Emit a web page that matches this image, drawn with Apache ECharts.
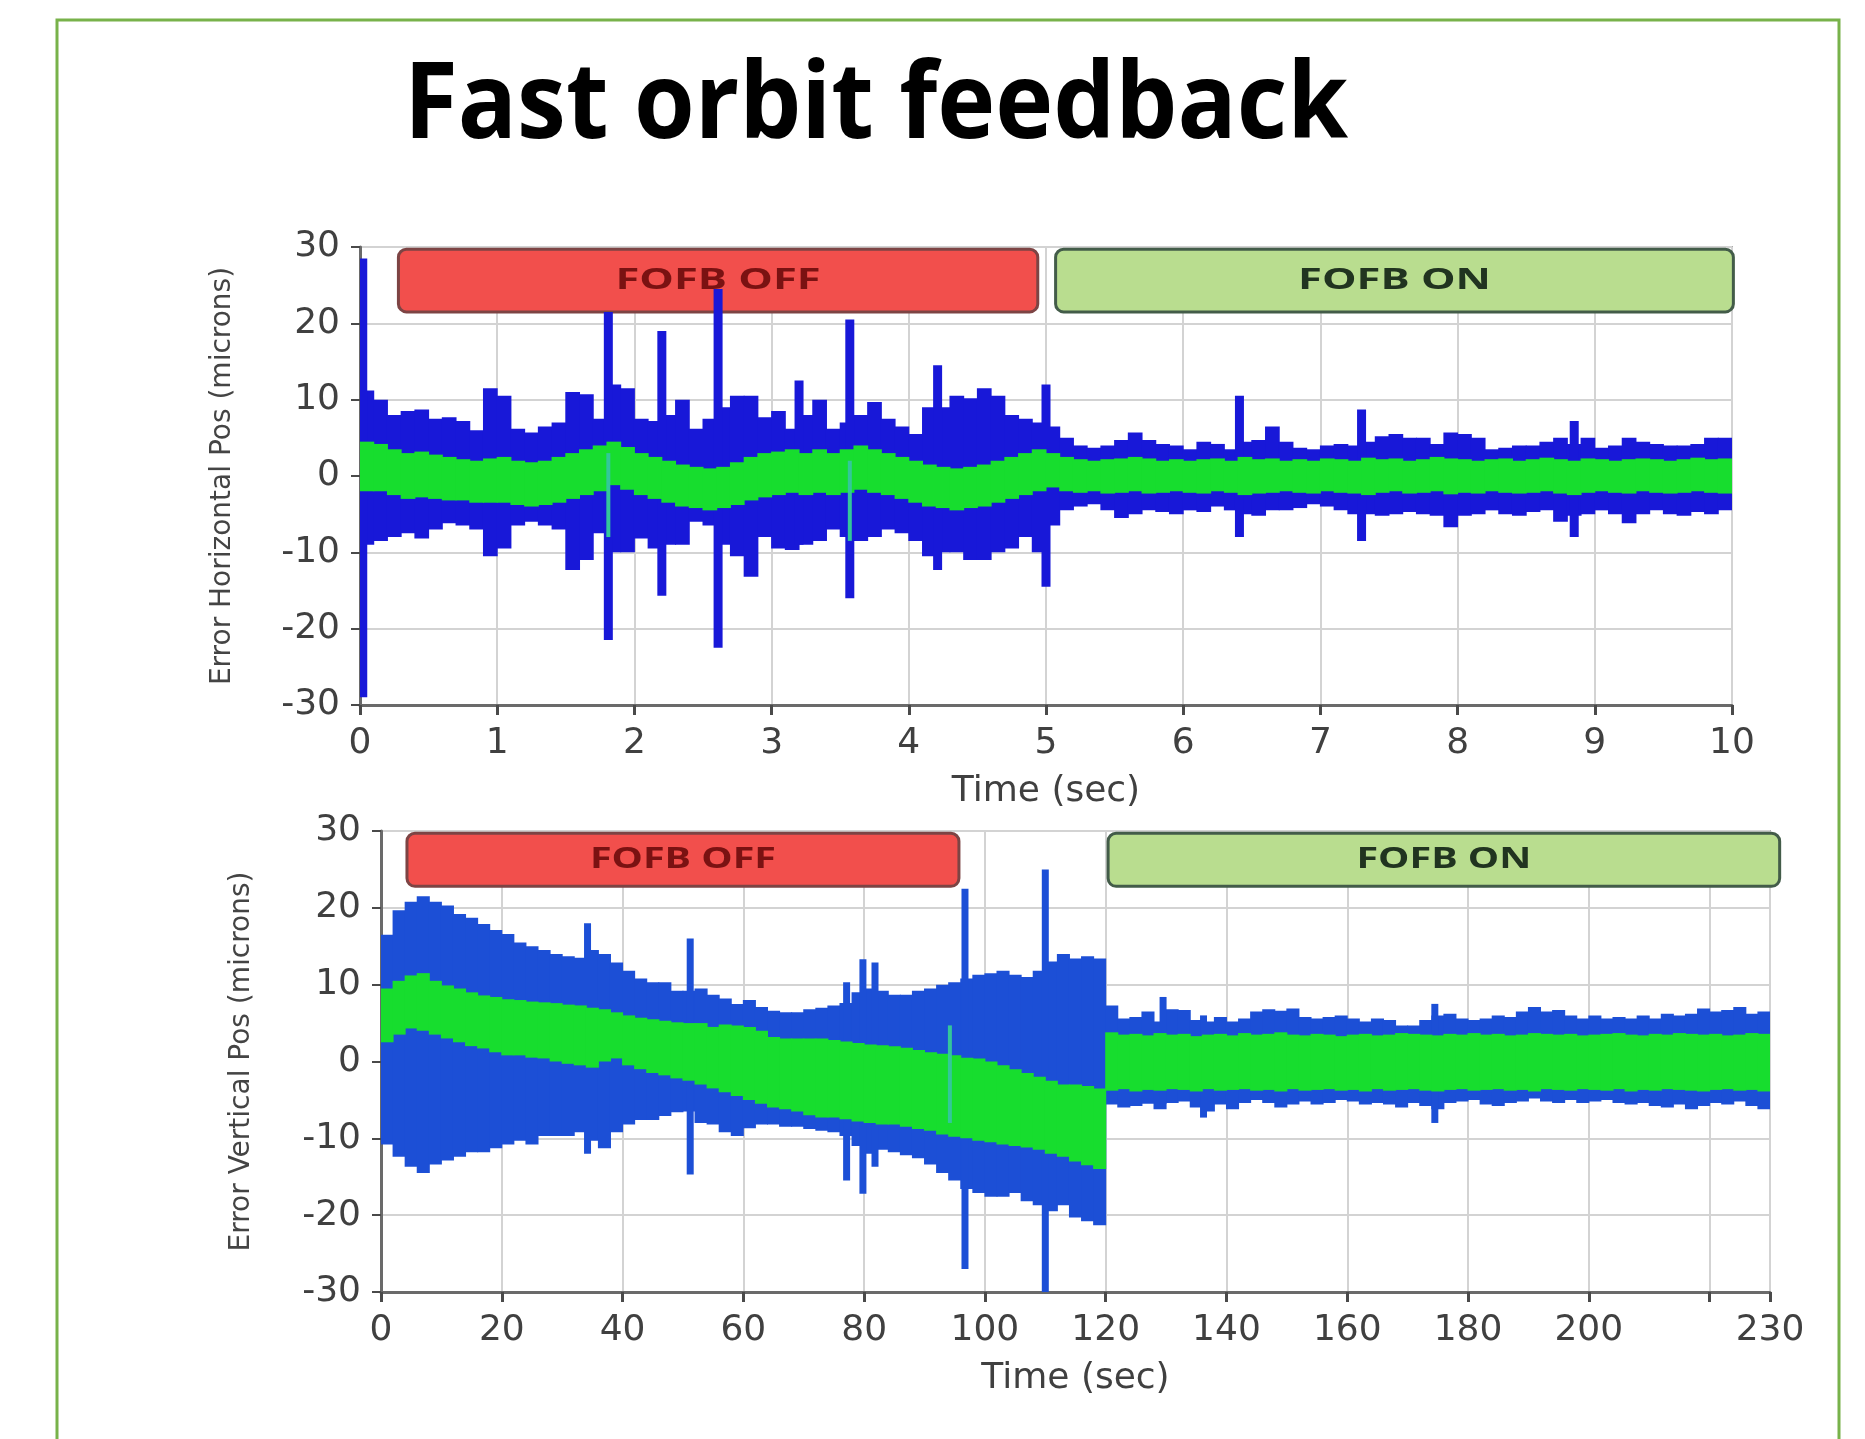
<!DOCTYPE html>
<html>
<head>
<meta charset="utf-8">
<script src="https://cdn.jsdelivr.net/npm/echarts@6/dist/echarts.min.js"></script>
<style>html,body{margin:0;padding:0;background:#fff;}#c{width:1865px;height:1439px;}</style>
</head>
<body>
<div id="c"></div>
<script>
const TITLE = 'Fast orbit feedback';
const boxLabels = ['FOFB OFF', 'FOFB ON'];

// ---------- Top chart: horizontal error, 0-10 s, bins of 0.1 s ----------
const topStep = 0.1;
const topBlueHi = [
 11.2,10,8,8.5,8.7,7.5,7.7,7.2,6,11.5,
 10.5,6.2,5.7,6.5,7,11,10.7,7.5,12,11.5,
 7.5,7.2,8,10,6.2,7.5,9,10.5,10.5,7.7,
 8.5,6.2,8,10,6.2,7,8,9.7,7.5,6.5,
 5.5,9,9,10.5,10.2,11.5,10.5,8,7.5,7,
 6.5,5,4,3.7,4,4.7,5.7,4.7,4.2,4,
 3.5,4.5,4.2,3.5,4.5,4.7,6.5,4.5,3.7,3.5,
 4,4.2,4,4.5,5.2,5.5,5,5,4.2,5.7,
 5.5,5,3.5,3.7,4,4,4.5,5,4.2,5,
 3.7,4,5,4.5,4.2,4,4,4.2,5,5
];
const topBlueLo = [
 -9,-8.5,-8,-7.5,-8.2,-7,-6.2,-6.5,-7,-10.5,
 -9.5,-6.5,-6,-6.5,-7,-12.3,-11,-7.5,-10,-10,
 -8.2,-9.5,-9,-9,-6,-6.5,-9,-10.5,-13.2,-8,
 -9.5,-9.7,-9,-8.5,-7,-8,-8.5,-8,-7,-7.5,
 -8.5,-10.5,-10,-10,-11,-11,-10,-9.5,-8,-10,
 -6.5,-4.5,-4,-3.7,-4.5,-5.5,-5,-4.5,-4.7,-5,
 -4.5,-4.7,-4,-4.5,-5,-5.2,-4.5,-4.5,-4.2,-3.7,
 -4,-4.5,-5,-5,-5.2,-5,-4.7,-5,-5.2,-6.7,
 -5.2,-5,-4.5,-5,-5.2,-4.7,-4.5,-6,-5.2,-5,
 -4.5,-5,-6.2,-5,-4.5,-5,-5.2,-4.7,-5,-4.5
];
const topGreenHi = [
 4.5,4.2,3.5,3.0,3.2,2.8,2.5,2.2,2.0,2.3,
 2.5,2.0,1.8,2.0,2.5,3.0,3.5,4.0,4.5,3.8,
 3.0,2.5,2.0,1.5,1.2,1.0,1.2,1.8,2.5,3.0,
 3.2,3.5,3.0,3.5,3.0,3.5,4.0,3.5,3.0,2.5,
 2.0,1.5,1.2,1.0,1.2,1.5,2.0,2.5,3.0,3.5,
 3.0,2.5,2.2,2.0,2.2,2.3,2.5,2.3,2.0,2.2,
 2.0,2.2,2.3,2.0,2.5,2.2,2.3,2.0,2.2,2.0,
 2.3,2.2,2.0,2.4,2.2,2.3,2.0,2.2,2.5,2.3,
 2.2,2.0,2.2,2.3,2.0,2.2,2.4,2.2,2.0,2.3,
 2.2,2.0,2.2,2.3,2.2,2.0,2.2,2.4,2.2,2.3
];
const topGreenLo = [
 -2.0,-2.0,-2.5,-3.0,-2.8,-3.0,-3.2,-3.2,-3.5,-3.5,
 -3.5,-3.8,-4.0,-3.8,-3.5,-3.0,-2.5,-2.0,-1.2,-1.8,
 -2.5,-3.0,-3.5,-4.0,-4.2,-4.5,-4.2,-3.8,-3.2,-2.8,
 -2.5,-2.2,-2.5,-2.2,-2.5,-2.2,-1.8,-2.2,-2.5,-3.0,
 -3.5,-4.0,-4.2,-4.5,-4.2,-4.0,-3.5,-3.0,-2.5,-2.0,
 -1.5,-2.0,-2.2,-2.0,-2.3,-2.2,-2.0,-2.3,-2.2,-2.0,
 -2.2,-2.3,-2.0,-2.2,-2.5,-2.3,-2.2,-2.0,-2.2,-2.3,
 -2.0,-2.2,-2.3,-2.5,-2.2,-2.0,-2.3,-2.2,-2.0,-2.4,
 -2.2,-2.3,-2.0,-2.2,-2.3,-2.2,-2.0,-2.3,-2.5,-2.2,
 -2.0,-2.2,-2.3,-2.0,-2.2,-2.3,-2.2,-2.0,-2.2,-2.3
];
const topSpikeT  = [0.02, 1.81, 2.20, 2.61, 3.20, 3.57, 4.21, 5.00, 6.41, 7.30, 8.85];
const topSpikeHi = [28.5, 21.5, 19, 24.5, 12.5, 20.5, 14.5, 12, 10.5, 8.7, 7.2];
const topSpikeLo = [-29, -21.5, -15.7, -22.5, -9, -16, -12.3, -14.5, -8, -8.5, -8];
const topGSpikeT  = [1.81, 3.57];
const topGSpikeHi = [3, 2];
const topGSpikeLo = [-8, -8.5];
const topBoxStart = [0.28, 5.07];
const topBoxEnd   = [4.94, 10.01];
const topBoxTop = 29.7, topBoxBottom = 21.5;

// ---------- Bottom chart: vertical error, 0-230 s, bins of 2 s ----------
const botStep = 2;
const botBlueHi = [
 16.5,19.7,20.8,21.5,20.8,20.3,19.2,18.7,17.9,17.1,
 16.6,15.5,15,14.5,14,13.7,13.5,14.5,14,12.9,
 11.8,10.8,10.3,10.3,9.2,9.2,9.5,8.7,8.2,7.5,
 8.0,7.1,6.6,6.4,6.4,6.8,7.0,7.3,7.6,9.0,
 9.5,9.2,8.7,8.7,9.2,9.5,10.0,10.3,10.8,11.3,
 11.5,11.8,11.3,11.0,11.8,13.0,14.0,13.4,13.7,13.4,
 7.3,5.6,5.8,6.5,5.2,6.8,6.7,5.4,5.2,5.8,
 5.2,5.6,6.5,6.8,6.6,6.9,5.8,5.6,5.8,6.0,
 5.6,5.2,5.6,5.4,4.7,4.7,5.4,6.0,6.2,5.6,
 5.4,5.6,6.0,5.8,6.5,7.1,6.5,6.7,6.0,5.6,
 6.0,5.6,5.8,5.6,6.0,5.6,6.2,6.0,6.2,6.9,
 6.5,6.7,7.1,6.2,6.5
];
const botBlueLo = [
 -10.8,-12.4,-13.7,-14.5,-13.4,-12.9,-12.4,-11.8,-11.8,-11.3,
 -10.8,-10.3,-10.8,-9.7,-9.7,-9.7,-9.2,-10.3,-11.3,-9.2,
 -8.2,-7.6,-7.6,-7.1,-6.6,-6.5,-8.0,-8.2,-9.2,-9.7,
 -8.7,-8.2,-8.2,-8.5,-8.5,-8.8,-9.0,-9.2,-9.7,-11.0,
 -12.0,-11.5,-11.8,-12.2,-12.6,-13.4,-14.5,-15.5,-16.6,-17.1,
 -17.6,-17.6,-17.1,-18.2,-18.7,-19.5,-18.7,-20.3,-20.8,-21.3,
 -5.6,-6.0,-5.8,-5.5,-6.2,-5.4,-5.2,-6.0,-6.5,-5.6,
 -6.2,-5.4,-5.0,-5.4,-6.0,-5.6,-5.2,-5.6,-5.4,-5.0,
 -5.2,-5.6,-5.4,-5.6,-6.0,-5.4,-5.8,-6.2,-5.4,-5.2,
 -5.0,-5.6,-5.8,-5.4,-5.2,-4.8,-5.2,-5.4,-5.0,-5.4,
 -5.2,-5.0,-5.4,-5.6,-5.4,-5.8,-6.0,-5.6,-6.2,-5.8,
 -5.4,-5.6,-5.2,-5.8,-6.2
];
const botGreenHi = [
 9.5,10.5,11.2,11.5,10.5,9.9,9.5,9.0,8.6,8.4,
 8.1,8.0,7.8,7.7,7.6,7.4,7.3,7.0,6.8,6.4,
 6.0,5.7,5.5,5.3,5.1,5.0,5.0,4.5,4.8,4.7,
 4.5,4.0,3.2,3.0,3.0,3.0,3.0,2.8,2.6,2.4,
 2.2,2.1,2.0,1.8,1.5,1.2,1.0,0.8,0.5,0.4,
 0.0,-0.5,-1.0,-1.5,-2.0,-2.5,-3.0,-3.0,-3.2,-3.5,
 3.8,3.5,3.6,3.4,3.7,3.5,3.6,3.3,3.5,3.6,
 3.4,3.7,3.5,3.6,3.8,3.5,3.4,3.6,3.5,3.3,
 3.5,3.6,3.4,3.5,3.7,3.6,3.5,3.4,3.6,3.5,
 3.7,3.5,3.6,3.4,3.5,3.7,3.6,3.5,3.6,3.4,
 3.5,3.6,3.7,3.5,3.4,3.6,3.5,3.7,3.6,3.5,
 3.6,3.4,3.5,3.7,3.6
];
const botGreenLo = [
 2.5,3.5,4.3,4.0,3.5,3.0,2.5,2.0,1.7,1.2,
 0.8,0.8,0.5,0.4,0.0,-0.3,-0.5,-0.8,0.0,0.4,
 -0.5,-1.0,-1.5,-1.8,-2.2,-2.5,-3.0,-3.5,-4.0,-4.5,
 -5.0,-5.5,-6.0,-6.2,-6.5,-7.0,-7.3,-7.3,-7.5,-7.8,
 -8.0,-8.2,-8.2,-8.5,-8.8,-9.0,-9.5,-9.8,-10.0,-10.3,
 -10.5,-10.8,-11.0,-11.2,-11.5,-12.0,-12.4,-13.0,-13.5,-14.0,
 -3.8,-3.6,-3.9,-3.7,-3.8,-3.6,-3.7,-3.9,-3.6,-3.8,
 -3.7,-3.6,-3.8,-3.7,-3.9,-3.6,-3.8,-3.7,-3.6,-3.8,
 -3.7,-3.9,-3.6,-3.8,-3.7,-3.6,-3.8,-3.9,-3.7,-3.6,
 -3.8,-3.7,-3.6,-3.8,-3.7,-3.9,-3.6,-3.7,-3.8,-3.6,
 -3.7,-3.8,-3.6,-3.9,-3.7,-3.8,-3.6,-3.7,-3.8,-3.9,
 -3.7,-3.6,-3.8,-3.7,-3.9
];
const botSpikeT  = [34.2, 51.2, 77.1, 79.8, 81.8, 96.7, 110, 129.5, 136.2, 174.5];
const botSpikeHi = [18, 16, 10.3, 13.3, 12.9, 22.5, 25, 8.4, 6, 7.5];
const botSpikeLo = [-12, -14.7, -15.5, -17.2, -13.7, -27, -30, -5.5, -7.3, -8];
const botGSpikeT  = [94.2];
const botGSpikeHi = [4.7];
const botGSpikeLo = [-8];
const botBoxStart = [4.3, 120.4];
const botBoxEnd   = [95.7, 231.6];
const botBoxTop = 29.7, botBoxBottom = 22.8;

// ---------- helpers ----------
function bandData(step, hi, lo) {
  return hi.map((h, i) => [i * step, (i + 1) * step, h, lo[i]]);
}
function spikeData(t, hi, lo) { return t.map((v, i) => [v, hi[i], lo[i]]); }
function boxData(s, e, top, bottom) { return s.map((v, i) => [v, e[i], top, bottom]); }

function bandSeries(idx, data, color, z) {
  return {
    type: 'custom', xAxisIndex: idx, yAxisIndex: idx, z: z, clip: true, silent: true,
    encode: { x: [0, 1], y: [2, 3] },
    data: data,
    renderItem: function (params, api) {
      const a = api.coord([api.value(0), api.value(2)]);
      const b = api.coord([api.value(1), api.value(3)]);
      return { type: 'rect', shape: { x: a[0] - 0.5, y: a[1], width: b[0] - a[0] + 1, height: b[1] - a[1] },
               style: { fill: color } };
    }
  };
}
function spikeSeries(idx, data, color, w, z) {
  return {
    type: 'custom', xAxisIndex: idx, yAxisIndex: idx, z: z, clip: true, silent: true,
    encode: { x: 0, y: [1, 2] },
    data: data,
    renderItem: function (params, api) {
      const a = api.coord([api.value(0), api.value(1)]);
      const b = api.coord([api.value(0), api.value(2)]);
      return { type: 'rect', shape: { x: a[0] - w / 2, y: a[1], width: w, height: b[1] - a[1] },
               style: { fill: color } };
    }
  };
}
const boxStyles = [
  { fill: '#f24f4c', stroke: '#7d4444', text: '#7a1212' },
  { fill: '#b9dd8f', stroke: '#435c49', text: '#213420' }
];
function boxSeries(idx, data, textScale) {
  return {
    type: 'custom', xAxisIndex: idx, yAxisIndex: idx, z: 1, clip: false, silent: true,
    encode: { x: [0, 1], y: [2, 3] },
    data: data,
    renderItem: function (params, api) {
      const a = api.coord([api.value(0), api.value(2)]);
      const b = api.coord([api.value(1), api.value(3)]);
      const st = boxStyles[params.dataIndex];
      return { type: 'group', children: [
        { type: 'rect', shape: { x: a[0], y: a[1], width: b[0] - a[0], height: b[1] - a[1], r: 8 },
          style: { fill: st.fill, stroke: st.stroke, lineWidth: 3 } },
        { type: 'text', x: (a[0] + b[0]) / 2, y: (a[1] + b[1]) / 2, scaleX: textScale,
          style: { text: boxLabels[params.dataIndex], font: 'bold 29px "Open Sans"', fill: st.text,
                   align: 'center', verticalAlign: 'middle' } }
      ]};
    }
  };
}

const lblFont = { fontFamily: 'DejaVu Sans', fontSize: 36, color: '#404040' };
function xAxisCfg(idx, max, interval, fmt) {
  return {
    gridIndex: idx, type: 'value', min: 0, max: max, interval: interval,
    name: 'Time (sec)', nameLocation: 'middle', nameGap: 69,
    nameTextStyle: { fontFamily: 'DejaVu Sans', fontSize: 36, color: '#404040' },
    axisLine: { show: true, onZero: false, lineStyle: { color: '#6a6a6a', width: 3 } },
    axisTick: { show: true, length: 10, lineStyle: { color: '#4a4a4a', width: 3 } },
    axisLabel: Object.assign({ margin: 21, formatter: fmt }, lblFont),
    splitLine: { show: true, lineStyle: { color: '#d3d3d3', width: 2 } }
  };
}
function yAxisCfg(idx, name, gap) {
  return {
    gridIndex: idx, type: 'value', min: -30, max: 30, interval: 10,
    name: name, nameLocation: 'middle', nameGap: gap,
    nameTextStyle: { fontFamily: 'DejaVu Sans', fontSize: 28, color: '#444444' },
    axisLine: { show: true, onZero: false, lineStyle: { color: '#6a6a6a', width: 3 } },
    axisTick: { show: true, length: 9, lineStyle: { color: '#4a4a4a', width: 2 } },
    axisLabel: Object.assign({ margin: 20 }, lblFont),
    splitLine: { show: true, lineStyle: { color: '#d3d3d3', width: 2 } }
  };
}

// title width fit
const TITLE_FONT = 'bold 105px "Open Sans"';
const mctx = document.createElement('canvas').getContext('2d');
mctx.font = TITLE_FONT;
const titleScale = 944 / mctx.measureText(TITLE).width;

const TOP_BLUE = '#1818d8', BOT_BLUE = '#1c4fd6', GREEN = '#17dd2e', TEAL = '#33c79a';

const chart = echarts.init(document.getElementById('c'), null, { renderer: 'canvas' });
chart.setOption({
  animation: false,
  backgroundColor: '#ffffff',
  graphic: [
    { type: 'rect', silent: true, shape: { x: 57, y: 20, width: 1782, height: 1460 },
      style: { fill: 'none', stroke: '#78b24a', lineWidth: 3 } },
    { type: 'text', silent: true, x: 876, y: 108, scaleX: titleScale,
      style: { text: TITLE, font: TITLE_FONT, fill: '#000000', align: 'center', verticalAlign: 'middle' } }
  ],
  grid: [
    { left: 360, top: 247, width: 1372, height: 458, show: true, borderColor: '#ababab', borderWidth: 2, backgroundColor: '#ffffff' },
    { left: 381, top: 831, width: 1389, height: 461, show: true, borderColor: '#ababab', borderWidth: 2, backgroundColor: '#ffffff' }
  ],
  xAxis: [
    xAxisCfg(0, 10, 1, v => String(v)),
    xAxisCfg(1, 230, 20, v => (v === 220 ? '' : String(v)))
  ],
  yAxis: [
    yAxisCfg(0, 'Error Horizontal Pos (microns)', 123),
    yAxisCfg(1, 'Error Vertical Pos (microns)', 125)
  ],
  series: [
    boxSeries(0, boxData(topBoxStart, topBoxEnd, topBoxTop, topBoxBottom), 1.5),
    bandSeries(0, bandData(topStep, topBlueHi, topBlueLo), TOP_BLUE, 2),
    spikeSeries(0, spikeData(topSpikeT, topSpikeHi, topSpikeLo), TOP_BLUE, 9, 3),
    bandSeries(0, bandData(topStep, topGreenHi, topGreenLo), GREEN, 4),
    spikeSeries(0, spikeData(topGSpikeT, topGSpikeHi, topGSpikeLo), TEAL, 4, 5),

    boxSeries(1, boxData(botBoxStart, botBoxEnd, botBoxTop, botBoxBottom), 1.36),
    bandSeries(1, bandData(botStep, botBlueHi, botBlueLo), BOT_BLUE, 2),
    spikeSeries(1, spikeData(botSpikeT, botSpikeHi, botSpikeLo), BOT_BLUE, 7, 3),
    bandSeries(1, bandData(botStep, botGreenHi, botGreenLo), GREEN, 4),
    spikeSeries(1, spikeData(botGSpikeT, botGSpikeHi, botGSpikeLo), TEAL, 4, 5)
  ]
});
</script>
</body>
</html>
